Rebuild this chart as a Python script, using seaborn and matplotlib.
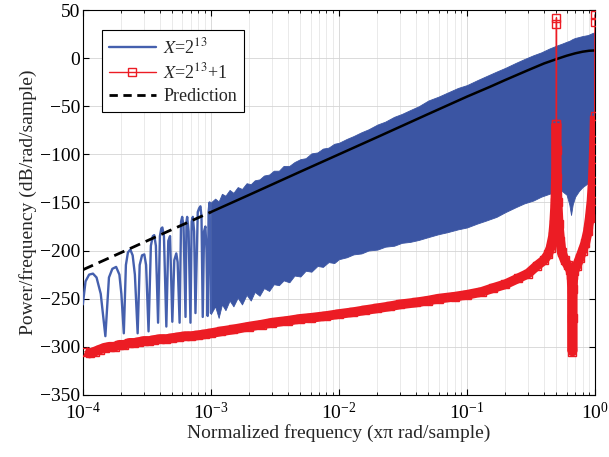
import numpy as np
import pandas as pd
import matplotlib
matplotlib.use("Agg")
import matplotlib.pyplot as plt
import seaborn as sns
from matplotlib.lines import Line2D

# ---- data ----
# X = 2^13 : low-frequency lobes (sparse part)
lobe_f = [1.0e-4, 1.05e-4, 1.12e-4, 1.2e-4, 1.28e-4, 1.38e-4, 1.5e-4,
          1.6e-4, 1.7e-4, 1.82e-4, 1.93e-4, 2.0e-4, 2.09e-4,
          2.17e-4, 2.25e-4, 2.35e-4, 2.45e-4, 2.55e-4, 2.68e-4,
          2.78e-4, 2.9e-4, 3.02e-4, 3.12e-4, 3.26e-4,
          3.4e-4, 3.52e-4, 3.61e-4, 3.72e-4, 3.87e-4,
          4.0e-4, 4.1e-4, 4.18e-4, 4.3e-4, 4.49e-4,
          4.65e-4, 4.8e-4, 5.0e-4,
          5.18e-4, 5.37e-4, 5.5e-4, 5.7e-4,
          5.85e-4, 5.97e-4, 6.12e-4, 6.34e-4,
          6.45e-4, 6.53e-4, 6.7e-4, 6.93e-4,
          7.08e-4, 7.23e-4, 7.4e-4, 7.58e-4,
          7.9e-4, 8.1e-4, 8.29e-4, 8.45e-4, 8.64e-4,
          8.85e-4, 9.06e-4, 9.25e-4, 9.44e-4,
          9.6e-4, 9.78e-4, 1.0e-3]
lobe_db = [-256, -232, -225, -224, -228, -245, -289,
           -228, -219, -217, -225, -245, -286,
           -215, -202, -199, -205, -225, -286,
           -215, -205, -204, -215, -284,
           -195, -185, -184, -195, -275,
           -185, -177, -176, -185, -279,
           -190, -185, -274,
           -210, -203, -212, -275,
           -170, -165, -175, -269,
           -170, -165, -180, -275,
           -170, -165, -180, -265,
           -160, -156, -154, -165, -269,
           -180, -175, -200, -268,
           -160, -150, -265]

# X = 2^13 : dense part, upper / lower envelope
env_f = [1.0e-3, 1.08e-3, 1.15e-3, 1.22e-3, 1.3e-3, 1.4e-3, 1.5e-3, 1.62e-3,
         1.75e-3, 1.9e-3, 2.05e-3, 2.2e-3, 2.4e-3, 2.6e-3, 2.85e-3, 3.1e-3,
         3.4e-3, 3.7e-3, 4.1e-3, 4.5e-3, 5e-3, 5.5e-3, 6.1e-3, 6.8e-3,
         7.5e-3, 8.3e-3, 9.2e-3, 1.0e-2, 1.15e-2, 1.3e-2, 1.5e-2, 1.7e-2,
         2.0e-2, 2.3e-2, 2.7e-2, 3.1e-2, 3.6e-2, 4.2e-2, 5e-2, 6e-2,
         7e-2, 8.5e-2, 0.1, 0.12, 0.14, 0.17, 0.2, 0.24,
         0.28, 0.33, 0.38, 0.44, 0.5, 0.55, 0.6, 0.63,
         0.65, 0.67, 0.7, 0.75, 0.8, 0.88, 0.95, 1.0]
env_hi = [-150, -146, -149, -141, -143, -137, -140, -134,
          -136, -130, -131, -127, -126, -122, -121, -117,
          -117, -112, -112, -108, -105, -104, -99, -98,
          -94, -93, -89, -88, -84, -81, -77, -74,
          -69, -66, -61, -58, -54, -50, -44, -40,
          -36, -31, -28, -23, -19, -14, -10, -5,
          -1, 3, 6, 10, 13, 15, 17, 18,
          19, 20, 21, 22, 23, 24, 26, 27]
env_lo = [-266, -258, -270, -256, -262, -252, -258, -249,
          -256, -246, -252, -243, -247, -239, -242, -235,
          -236, -231, -233, -226, -227, -221, -222, -216,
          -217, -212, -213, -209, -207, -204, -203, -200,
          -199, -196, -195, -192, -191, -189, -186, -183,
          -181, -178, -176, -172, -169, -165, -160, -155,
          -151, -148, -144, -141, -139, -138, -142, -152,
          -163, -152, -144, -138, -134, -130, -127, -125]

# X = 2^13 + 1
red_f = [1.04e-4, 1.13e-4, 1.24e-4, 1.35e-4, 1.48e-4, 1.62e-4, 1.77e-4, 1.93e-4,
         2.11e-4, 2.31e-4, 2.52e-4, 2.76e-4, 3.0e-4, 3.3e-4, 3.6e-4, 4.0e-4,
         4.5e-4, 5e-4, 5.6e-4, 6.3e-4, 7e-4, 8e-4, 9e-4, 1e-3,
         1.2e-3, 1.5e-3, 2e-3, 2.5e-3, 3e-3, 4e-3, 5e-3, 6e-3,
         8e-3, 1e-2, 1.3e-2, 1.6e-2, 2e-2, 2.5e-2, 3e-2, 4e-2,
         5e-2, 6e-2, 8e-2, 0.1, 0.13, 0.16, 0.2, 0.25,
         0.3, 0.35, 0.4, 0.43, 0.45, 0.47, 0.48, 0.49,
         0.495, 0.498, 0.4995, 0.4999, 0.5, 0.5001, 0.502, 0.505,
         0.51, 0.52, 0.535, 0.55, 0.58, 0.61, 0.64, 0.655,
         0.662, 0.665, 0.6667, 0.668, 0.671, 0.678, 0.69, 0.72,
         0.76, 0.8, 0.84, 0.88, 0.91, 0.94, 0.96, 0.975,
         0.985, 0.995, 0.9995, 1.0]
red_db = [-305, -307, -305, -303, -301, -300, -300, -298,
          -298, -296, -296, -295, -294, -294, -293, -292,
          -292, -291, -290, -289, -289, -288, -287, -286,
          -284, -282, -279, -277, -275, -273, -271, -270,
          -268, -266, -264, -262, -260, -258, -256, -254,
          -252, -250, -248, -246, -243, -239, -235, -229,
          -224, -216, -210, -204, -197, -185, -172, -150,
          -125, -95, -68, 36, 42, -68, -95, -125,
          -150, -172, -190, -202, -210, -215, -220, -225,
          -240, -270, -305, -270, -240, -225, -221, -216,
          -208, -200, -192, -180, -166, -148, -128, -105,
          -85, -60, 38, 45]

# prediction
pred_f = [1e-4, 2e-4, 5e-4, 1e-3, 2e-3, 5e-3, 1e-2, 2e-2, 5e-2, 0.1,
          0.15, 0.2, 0.3, 0.4, 0.5, 0.6, 0.7, 0.8, 0.9, 1.0]
pred_db = [-220, -202, -178, -160, -142, -118, -100, -82, -58, -40,
           -30, -22.6, -12.5, -5.5, -1, 2.5, 5, 6.7, 7.7, 8]

blue = "#3b55a3"
blue_line = "#4560ae"
red = "#ec1c24"

sns.set_style("whitegrid")
plt.rcParams["font.family"] = ["Liberation Serif", "DejaVu Serif"]
plt.rcParams["mathtext.fontset"] = "stix"
plt.rcParams["axes.unicode_minus"] = True

fig, ax = plt.subplots(figsize=(6.09, 4.57), dpi=100)
fig.subplots_adjust(left=0.136, right=0.977, top=0.978, bottom=0.136)

# blue: dense band + low-frequency lobes
ax.fill_between(env_f, env_lo, env_hi, color=blue, lw=0.6, edgecolor=blue, zorder=2)
lobes = pd.DataFrame({"f": lobe_f, "db": lobe_db})
sns.lineplot(data=lobes, x="f", y="db", color=blue_line, lw=1.7,
             sort=False, estimator=None, ax=ax, zorder=3)

# prediction: dashed where the lobes are, solid over the dense band
pred = pd.DataFrame({"f": pred_f, "db": pred_db})
low = pred[pred.f <= 1e-3]
high = pred[pred.f >= 1e-3]
sns.lineplot(data=low, x="f", y="db", color="black", lw=2.0, ls=(0, (4, 2.2)),
             sort=False, estimator=None, ax=ax, zorder=4)
sns.lineplot(data=high, x="f", y="db", color="black", lw=1.8,
             sort=False, estimator=None, ax=ax, zorder=4)

# red: thin line with square markers, plus the thick marker band
red_df = pd.DataFrame({"f": red_f, "db": red_db})
band = red_df.copy()
band.loc[band.db > -60, "db"] = np.nan
ax.plot(band.f, band.db, color=red, lw=7.0, zorder=5, solid_capstyle="butt")
sns.lineplot(data=red_df, x="f", y="db", color=red, lw=1.0, marker="s",
             markersize=5.5, markerfacecolor="none", markeredgecolor=red,
             markeredgewidth=1.0, sort=False, estimator=None, ax=ax, zorder=6)

ax.set_xscale("log")
ax.set_xlim(1e-4, 1)
ax.set_ylim(-350, 50)
ax.set_yticks(np.arange(-350, 51, 50))

ax.grid(which="major", color="#d4d4d4", lw=0.6)
ax.grid(which="minor", axis="x", color="#e2e2e2", lw=0.5)
ax.set_axisbelow(True)
for s in ax.spines.values():
    s.set_color("black")
    s.set_linewidth(0.8)
ax.tick_params(which="both", direction="in", top=True, right=True,
               bottom=True, left=True, colors="black", labelsize=14)
ax.tick_params(which="major", length=4, width=0.8)
ax.tick_params(which="minor", length=2, width=0.6)
ax.tick_params(axis="x", which="major", pad=5)
ax.tick_params(axis="y", which="major", pad=2)

ax.set_xlabel("Normalized frequency (x\u03c0 rad/sample)", fontsize=14, labelpad=1)
ax.set_ylabel("Power/frequency (dB/rad/sample)", fontsize=14, labelpad=2)

handles = [
    Line2D([], [], color=blue_line, lw=1.7),
    Line2D([], [], color=red, lw=1.0, marker="s", markersize=6,
           markerfacecolor="none", markeredgecolor=red),
    Line2D([], [], color="black", lw=2.0, ls=(0, (3, 2))),
]
labels = ["$X$=2$^{13}$", "$X$=2$^{13}$+1", "Prediction"]
leg = ax.legend(handles, labels, loc="upper left", bbox_to_anchor=(0.037, 0.948),
                borderaxespad=0, fontsize=13, frameon=True, fancybox=False,
                framealpha=1, handlelength=2.6, handletextpad=0.4,
                labelspacing=0.3, borderpad=0.4)
leg.get_frame().set_edgecolor("black")
leg.get_frame().set_linewidth(0.8)
leg.set_zorder(10)

fig.savefig("out.png", dpi=100)
